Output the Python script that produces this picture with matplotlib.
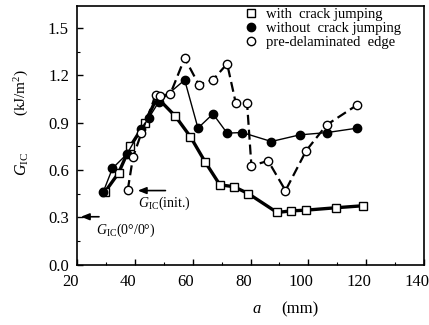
import matplotlib
matplotlib.use('Agg')
import matplotlib.pyplot as plt
from matplotlib.ticker import MultipleLocator
from matplotlib.lines import Line2D
from matplotlib.transforms import ScaledTranslation

plt.rcParams['font.family'] = ['Liberation Serif', 'DejaVu Serif']
plt.rcParams['mathtext.fontset'] = 'custom'
plt.rcParams['mathtext.rm'] = 'Liberation Serif'
plt.rcParams['mathtext.it'] = 'Liberation Serif:italic'

# with crack jumping (open squares, thick line)
a_jump = [29.6, 34.3, 38.4, 43.6, 47.6, 54.0, 59.2, 64.3, 69.4, 74.2, 79.2, 89.2, 93.9, 99.3, 109.5, 119.1]
g_jump = [0.46, 0.58, 0.75, 0.90, 1.06, 0.94, 0.81, 0.65, 0.505, 0.494, 0.45, 0.33, 0.34, 0.345, 0.36, 0.373]

# without crack jumping (filled circles, thin line)
a_nojump = [29.0, 32.2, 37.2, 42.2, 44.8, 48.2, 57.2, 61.8, 67.0, 71.9, 77.1, 87.2, 97.0, 106.6, 117.0]
g_nojump = [0.46, 0.61, 0.70, 0.86, 0.93, 1.03, 1.17, 0.865, 0.955, 0.833, 0.837, 0.78, 0.822, 0.837, 0.865]

# pre-delaminated edge (open circles, dashed line)
a_pre = [37.5, 39.3, 42.2, 47.2, 48.8, 52.2, 57.2, 62.1, 67.0, 71.9, 74.9, 78.8, 80.3, 86.1, 92.1, 99.3, 106.4, 117.0]
g_pre = [0.473, 0.68, 0.833, 1.075, 1.07, 1.08, 1.309, 1.14, 1.171, 1.273, 1.023, 1.023, 0.627, 0.657, 0.469, 0.723, 0.886, 1.013]

legend_labels = ['with  crack jumping', 'without  crack jumping', 'pre-delaminated  edge']
x_ticks = [20, 40, 60, 80, 100, 120, 140]
y_ticks = [0.0, 0.3, 0.6, 0.9, 1.2, 1.5]

fig = plt.figure(figsize=(4.29, 3.25), dpi=100)
ax = fig.add_axes([0.180, 0.186, 0.808, 0.796])

ax.plot(a_jump, g_jump, '-', color='black', lw=2.4, marker='s', ms=5.5,
        mfc='white', mec='black', mew=1.0, zorder=3)
ax.plot(a_nojump, g_nojump, '-', color='black', lw=1.0, marker='o', ms=6,
        mfc='black', mec='black', zorder=4)
ax.plot(a_pre, g_pre, color='black', lw=1.6, ls=(0, (4.5, 2.2)), marker='o', ms=6,
        mfc='white', mec='black', mew=1.0, zorder=5)

ax.set_xlim(20, 140)
ax.set_ylim(0, 1.64)
ax.xaxis.set_minor_locator(MultipleLocator(10))
ax.yaxis.set_minor_locator(MultipleLocator(0.15))
ax.set_xticks(x_ticks)
ax.set_xticklabels([str(v) for v in x_ticks])
ax.set_yticks(y_ticks)
ax.set_yticklabels([f'{v:.1f}' for v in y_ticks])
ax.tick_params(which='both', direction='in', labelsize=12, top=False, right=False)
ax.tick_params(which='major', length=4, width=1)
ax.tick_params(which='minor', length=2.5, width=0.8)
ax.tick_params(axis='x', which='major', pad=7)
ax.tick_params(axis='y', which='major', pad=6)
shift = ScaledTranslation(-7 / 100, 0, fig.dpi_scale_trans)
for lab in ax.get_xticklabels():
    lab.set_transform(lab.get_transform() + shift)
for s in ax.spines.values():
    s.set_linewidth(1.2)

# axis labels
fig.text(257 / 429, 1 - 309 / 325, r'$\mathsf{\mathit{a}}$', fontsize=12, ha='center', va='center')
fig.text(300 / 429, 1 - 309 / 325, '(mm)', fontsize=12, ha='center', va='center')
fig.text(22 / 429, 1 - 164 / 325, r'$G_{\mathrm{IC}}$', fontsize=11.5, ha='center', va='center', rotation=90)
fig.text(22 / 429, 1 - 92 / 325, r'(kJ/m$^2$)', fontsize=11, ha='center', va='center', rotation=90)

# annotations
ax.annotate('', xy=(40.0, 0.469), xytext=(51.5, 0.469),
            arrowprops=dict(arrowstyle='-|>,head_length=0.5,head_width=0.2', color='black', lw=1.2))
ax.text(41.0, 0.39, r'$G_{\mathrm{IC}}$(init.)', fontsize=10, va='center', ha='left')
ax.annotate('', xy=(20.3, 0.303), xytext=(28.5, 0.303),
            arrowprops=dict(arrowstyle='-|>,head_length=0.5,head_width=0.2', color='black', lw=1.2))
ax.text(26.5, 0.215, r'$G_{\mathrm{IC}}$(0°/0°)', fontsize=10, va='center', ha='left')

handles = [Line2D([], [], ls='none', marker='s', ms=5.5, mfc='white', mec='black'),
           Line2D([], [], ls='none', marker='o', ms=6, mfc='black', mec='black'),
           Line2D([], [], ls='none', marker='o', ms=6, mfc='white', mec='black')]
ax.legend(handles, legend_labels, loc='upper right', frameon=False, fontsize=10.5,
          handlelength=1.0, handletextpad=0.5, labelspacing=0.05,
          borderaxespad=0.0, bbox_to_anchor=(0.95, 1.015))

fig.savefig('out.png', dpi=100)
